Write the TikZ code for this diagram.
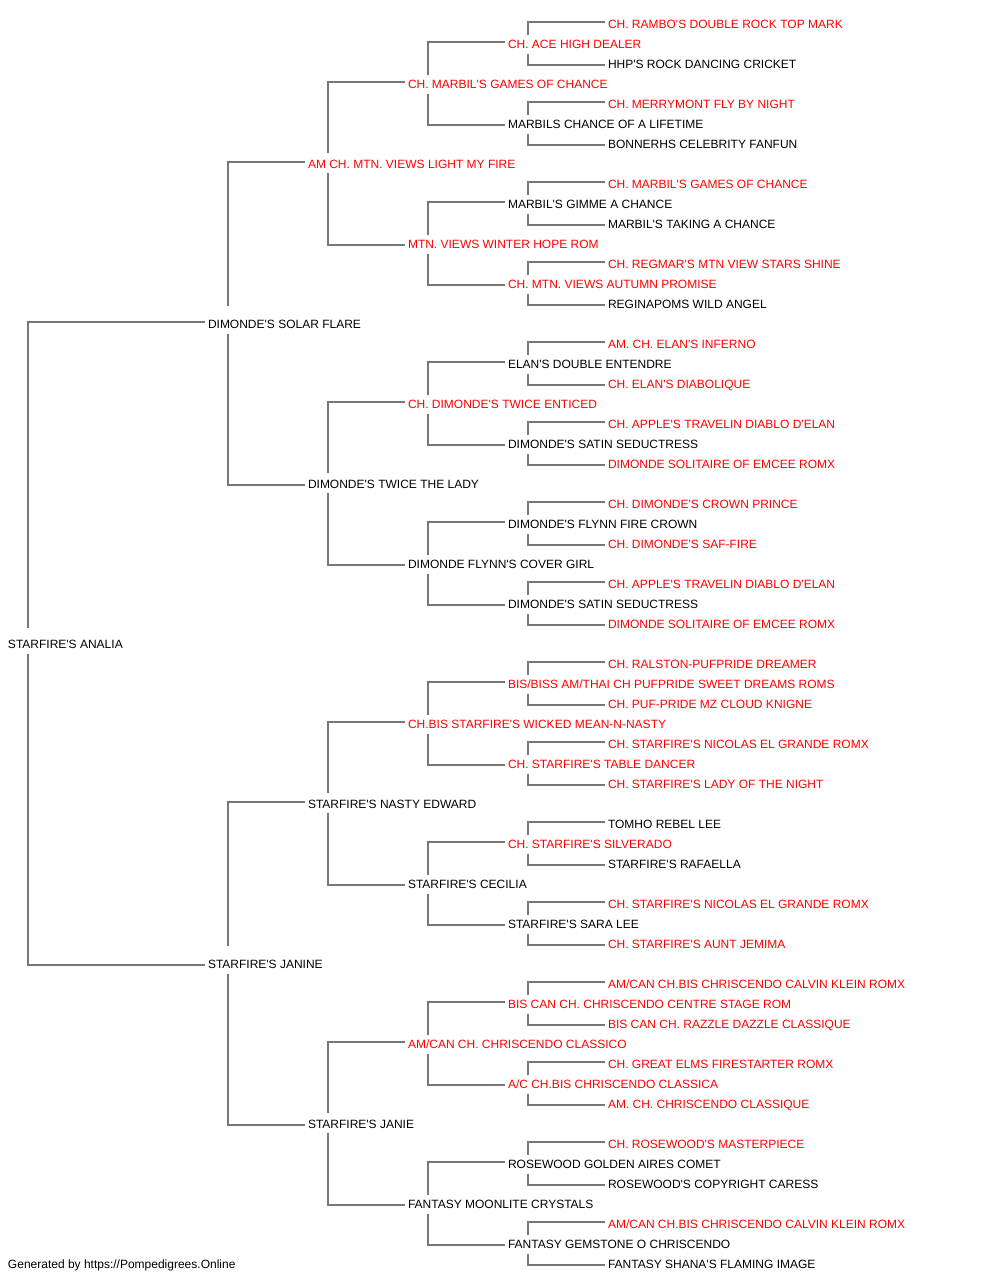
\documentclass[tikz,border=0pt]{standalone}
\usepackage{fontspec}
\setmainfont{Liberation Sans}[Ligatures=TeXOff]
\definecolor{redtxt}{HTML}{FF0000}
\definecolor{linegray}{HTML}{777777}
\tikzset{
  pnode/.style={anchor=base west, inner sep=0pt, outer sep=0pt, font=\fontsize{12pt}{14pt}\selectfont},
  conn/.style={draw=linegray, line width=1.8pt}
}
% \pn{row}{x}{color}{text}
\newcommand\pn[4]{\node[pnode,text=#3] (n#1) at (#2,{-(28.2+20*#1)}) {#4};}
% \lnk{parent}{sire}{dam}{gapup}{gapdown}
\newcommand\lnk[5]{%
  \draw[conn] ([xshift=20pt,yshift={5.2pt+#4pt}]n#1.base west) |- ([xshift=-3pt,yshift=6.2pt]n#2.base west);
  \draw[conn] ([xshift=20pt,yshift={5.2pt-#5pt}]n#1.base west) |- ([xshift=-3pt,yshift=3.2pt]n#3.base west);}
\begin{document}
\begin{tikzpicture}[x=1pt,y=1pt]
\useasboundingbox (0,0) rectangle (1000,-1280);
% level 0
\pn{31}{8}{black}{STARFIRE'S ANALIA}
% level 1
\pn{15}{208}{black}{DIMONDE'S SOLAR FLARE}
\pn{47}{208}{black}{STARFIRE'S JANINE}
% level 2
\pn{7}{308}{redtxt}{AM CH. MTN. VIEWS LIGHT MY FIRE}
\pn{23}{308}{black}{DIMONDE'S TWICE THE LADY}
\pn{39}{308}{black}{STARFIRE'S NASTY EDWARD}
\pn{55}{308}{black}{STARFIRE'S JANIE}
% level 3
\pn{3}{408}{redtxt}{CH. MARBIL'S GAMES OF CHANCE}
\pn{11}{408}{redtxt}{MTN. VIEWS WINTER HOPE ROM}
\pn{19}{408}{redtxt}{CH. DIMONDE'S TWICE ENTICED}
\pn{27}{408}{black}{DIMONDE FLYNN'S COVER GIRL}
\pn{35}{408}{redtxt}{CH.BIS STARFIRE'S WICKED MEAN-N-NASTY}
\pn{43}{408}{black}{STARFIRE'S CECILIA}
\pn{51}{408}{redtxt}{AM/CAN CH. CHRISCENDO CLASSICO}
\pn{59}{408}{black}{FANTASY MOONLITE CRYSTALS}
% level 4
\pn{1}{508}{redtxt}{CH. ACE HIGH DEALER}
\pn{5}{508}{black}{MARBILS CHANCE OF A LIFETIME}
\pn{9}{508}{black}{MARBIL'S GIMME A CHANCE}
\pn{13}{508}{redtxt}{CH. MTN. VIEWS AUTUMN PROMISE}
\pn{17}{508}{black}{ELAN'S DOUBLE ENTENDRE}
\pn{21}{508}{black}{DIMONDE'S SATIN SEDUCTRESS}
\pn{25}{508}{black}{DIMONDE'S FLYNN FIRE CROWN}
\pn{29}{508}{black}{DIMONDE'S SATIN SEDUCTRESS}
\pn{33}{508}{redtxt}{BIS/BISS AM/THAI CH PUFPRIDE SWEET DREAMS ROMS}
\pn{37}{508}{redtxt}{CH. STARFIRE'S TABLE DANCER}
\pn{41}{508}{redtxt}{CH. STARFIRE'S SILVERADO}
\pn{45}{508}{black}{STARFIRE'S SARA LEE}
\pn{49}{508}{redtxt}{BIS CAN CH. CHRISCENDO CENTRE STAGE ROM}
\pn{53}{508}{redtxt}{A/C CH.BIS CHRISCENDO CLASSICA}
\pn{57}{508}{black}{ROSEWOOD GOLDEN AIRES COMET}
\pn{61}{508}{black}{FANTASY GEMSTONE O CHRISCENDO}
% level 5
\pn{0}{608}{redtxt}{CH. RAMBO'S DOUBLE ROCK TOP MARK}
\pn{2}{608}{black}{HHP'S ROCK DANCING CRICKET}
\pn{4}{608}{redtxt}{CH. MERRYMONT FLY BY NIGHT}
\pn{6}{608}{black}{BONNERHS CELEBRITY FANFUN}
\pn{8}{608}{redtxt}{CH. MARBIL'S GAMES OF CHANCE}
\pn{10}{608}{black}{MARBIL'S TAKING A CHANCE}
\pn{12}{608}{redtxt}{CH. REGMAR'S MTN VIEW STARS SHINE}
\pn{14}{608}{black}{REGINAPOMS WILD ANGEL}
\pn{16}{608}{redtxt}{AM. CH. ELAN'S INFERNO}
\pn{18}{608}{redtxt}{CH. ELAN'S DIABOLIQUE}
\pn{20}{608}{redtxt}{CH. APPLE'S TRAVELIN DIABLO D'ELAN}
\pn{22}{608}{redtxt}{DIMONDE SOLITAIRE OF EMCEE ROMX}
\pn{24}{608}{redtxt}{CH. DIMONDE'S CROWN PRINCE}
\pn{26}{608}{redtxt}{CH. DIMONDE'S SAF-FIRE}
\pn{28}{608}{redtxt}{CH. APPLE'S TRAVELIN DIABLO D'ELAN}
\pn{30}{608}{redtxt}{DIMONDE SOLITAIRE OF EMCEE ROMX}
\pn{32}{608}{redtxt}{CH. RALSTON-PUFPRIDE DREAMER}
\pn{34}{608}{redtxt}{CH. PUF-PRIDE MZ CLOUD KNIGNE}
\pn{36}{608}{redtxt}{CH. STARFIRE'S NICOLAS EL GRANDE ROMX}
\pn{38}{608}{redtxt}{CH. STARFIRE'S LADY OF THE NIGHT}
\pn{40}{608}{black}{TOMHO REBEL LEE}
\pn{42}{608}{black}{STARFIRE'S RAFAELLA}
\pn{44}{608}{redtxt}{CH. STARFIRE'S NICOLAS EL GRANDE ROMX}
\pn{46}{608}{redtxt}{CH. STARFIRE'S AUNT JEMIMA}
\pn{48}{608}{redtxt}{AM/CAN CH.BIS CHRISCENDO CALVIN KLEIN ROMX}
\pn{50}{608}{redtxt}{BIS CAN CH. RAZZLE DAZZLE CLASSIQUE}
\pn{52}{608}{redtxt}{CH. GREAT ELMS FIRESTARTER ROMX}
\pn{54}{608}{redtxt}{AM. CH. CHRISCENDO CLASSIQUE}
\pn{56}{608}{redtxt}{CH. ROSEWOOD'S MASTERPIECE}
\pn{58}{608}{black}{ROSEWOOD'S COPYRIGHT CARESS}
\pn{60}{608}{redtxt}{AM/CAN CH.BIS CHRISCENDO CALVIN KLEIN ROMX}
\pn{62}{608}{black}{FANTASY SHANA'S FLAMING IMAGE}
% footer
\node[pnode,text=black] (footer) at (8,-1268.2) {Generated by https://Pompedigrees.Online};
% connectors
\lnk{31}{15}{47}{15}{11}
\lnk{15}{7}{23}{17}{11}
\lnk{47}{39}{55}{17}{11}
\foreach \p in {7,23,39,55}{
  \pgfmathtruncatemacro\s{\p-4}\pgfmathtruncatemacro\d{\p+4}
  \lnk{\p}{\s}{\d}{10}{10}}
\foreach \p in {3,11,19,27,35,43,51,59}{
  \pgfmathtruncatemacro\s{\p-2}\pgfmathtruncatemacro\d{\p+2}
  \lnk{\p}{\s}{\d}{8}{11}}
\foreach \p in {1,5,...,61}{
  \pgfmathtruncatemacro\s{\p-1}\pgfmathtruncatemacro\d{\p+1}
  \lnk{\p}{\s}{\d}{8}{11}}
\end{tikzpicture}
\end{document}
